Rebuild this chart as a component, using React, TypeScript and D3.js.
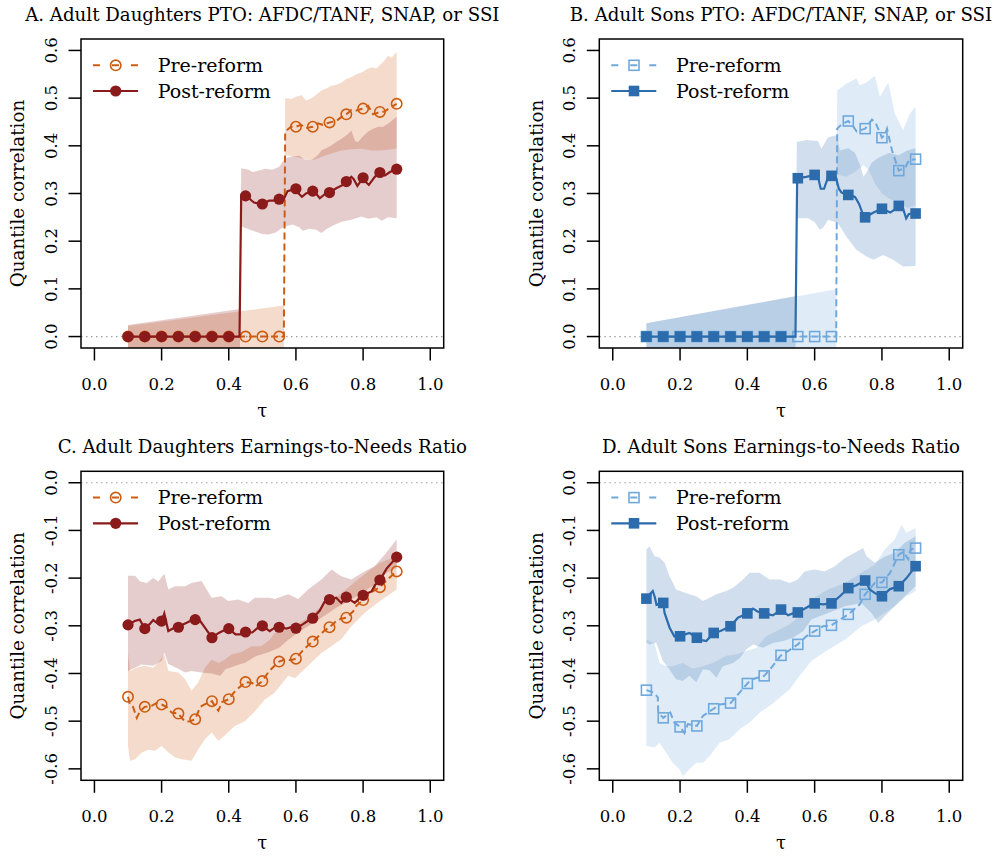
import React from 'react';
import * as d3 from 'd3';

type P = [number, number];

// tau grid of the plotted markers
const markerTau = [0.1, 0.15, 0.2, 0.25, 0.3, 0.35, 0.4, 0.45, 0.5, 0.55, 0.6, 0.65, 0.7, 0.75, 0.8, 0.85, 0.9];
const xTicks = [0, 0.2, 0.4, 0.6, 0.8, 1.0];
const yTicksPos = [0, 0.1, 0.2, 0.3, 0.4, 0.5, 0.6];
const yTicksNeg = [0, -0.1, -0.2, -0.3, -0.4, -0.5, -0.6];
const legendLabels = ['Pre-reform', 'Post-reform'];

// ---------- Panel A: Adult daughters PTO ----------
const aPreMarkers = [0, 0, 0, 0, 0, 0, 0, 0, 0, 0, 0.44, 0.44, 0.449, 0.466, 0.478, 0.471, 0.488];
const aPostMarkers = [0, 0, 0, 0, 0, 0, 0, 0.295, 0.278, 0.288, 0.31, 0.305, 0.302, 0.325, 0.333, 0.344, 0.351];
const aPreLine: P[] = [[0.1, 0], [0.564, 0], [0.568, 0.43], [0.585, 0.44], [0.6, 0.44], [0.615, 0.444], [0.63, 0.437], [0.65, 0.44], [0.665, 0.447], [0.68, 0.444], [0.7, 0.449], [0.72, 0.452], [0.735, 0.46], [0.75, 0.466], [0.765, 0.475], [0.78, 0.474], [0.8, 0.478], [0.815, 0.484], [0.83, 0.466], [0.85, 0.471], [0.865, 0.472], [0.875, 0.478], [0.9, 0.488]];
const aPostLine: P[] = [[0.1, 0], [0.432, 0], [0.437, 0.296], [0.45, 0.295], [0.46, 0.29], [0.475, 0.281], [0.5, 0.278], [0.52, 0.285], [0.54, 0.285], [0.55, 0.288], [0.565, 0.29], [0.575, 0.305], [0.6, 0.31], [0.605, 0.302], [0.618, 0.293], [0.63, 0.3], [0.65, 0.305], [0.66, 0.3], [0.671, 0.29], [0.685, 0.298], [0.7, 0.302], [0.72, 0.311], [0.74, 0.318], [0.75, 0.325], [0.765, 0.335], [0.772, 0.33], [0.783, 0.316], [0.795, 0.328], [0.8, 0.333], [0.807, 0.325], [0.817, 0.318], [0.835, 0.335], [0.85, 0.344], [0.865, 0.338], [0.88, 0.345], [0.9, 0.351]];
const aPreHi: P[] = [[0.1, 0.022], [0.564, 0.065], [0.568, 0.5], [0.587, 0.498], [0.6, 0.503], [0.617, 0.506], [0.63, 0.495], [0.646, 0.499], [0.66, 0.507], [0.676, 0.516], [0.69, 0.52], [0.706, 0.526], [0.72, 0.528], [0.736, 0.533], [0.75, 0.54], [0.765, 0.544], [0.78, 0.55], [0.795, 0.554], [0.81, 0.56], [0.825, 0.565], [0.84, 0.562], [0.854, 0.572], [0.865, 0.58], [0.874, 0.589], [0.885, 0.585], [0.9, 0.597]];
const aPreLo: P[] = [[0.1, -0.05], [0.564, -0.05], [0.568, 0.381], [0.59, 0.378], [0.617, 0.374], [0.646, 0.37], [0.66, 0.372], [0.676, 0.377], [0.706, 0.384], [0.736, 0.39], [0.765, 0.393], [0.795, 0.394], [0.825, 0.39], [0.854, 0.39], [0.874, 0.392], [0.9, 0.394]];
const aPostHi: P[] = [[0.1, 0.024], [0.433, 0.058], [0.437, 0.353], [0.46, 0.35], [0.47, 0.345], [0.49, 0.348], [0.51, 0.352], [0.53, 0.35], [0.55, 0.356], [0.568, 0.374], [0.59, 0.378], [0.61, 0.379], [0.625, 0.372], [0.646, 0.37], [0.665, 0.38], [0.676, 0.39], [0.69, 0.395], [0.706, 0.401], [0.72, 0.408], [0.736, 0.415], [0.755, 0.425], [0.765, 0.432], [0.776, 0.41], [0.785, 0.408], [0.8, 0.42], [0.815, 0.43], [0.83, 0.436], [0.845, 0.44], [0.86, 0.44], [0.875, 0.447], [0.89, 0.455], [0.9, 0.461]];
const aPostLo: P[] = [[0.1, -0.05], [0.433, -0.05], [0.437, 0.231], [0.46, 0.225], [0.48, 0.22], [0.5, 0.215], [0.52, 0.214], [0.54, 0.218], [0.555, 0.226], [0.568, 0.231], [0.59, 0.235], [0.61, 0.229], [0.62, 0.222], [0.64, 0.226], [0.66, 0.224], [0.676, 0.217], [0.69, 0.225], [0.71, 0.233], [0.736, 0.241], [0.765, 0.245], [0.795, 0.252], [0.815, 0.247], [0.84, 0.25], [0.855, 0.243], [0.874, 0.25], [0.9, 0.248]];

// ---------- Panel B: Adult sons PTO ----------
const bPreMarkers = [0, 0, 0, 0, 0, 0, 0, 0, 0, 0, 0, 0, 0.452, 0.436, 0.417, 0.348, 0.372];
const bPostMarkers = [0, 0, 0, 0, 0, 0, 0, 0, 0, 0.332, 0.339, 0.337, 0.297, 0.25, 0.268, 0.274, 0.258];
const bPreLine: P[] = [[0.1, 0], [0.664, 0], [0.667, 0.436], [0.68, 0.445], [0.7, 0.452], [0.715, 0.44], [0.725, 0.43], [0.75, 0.436], [0.76, 0.445], [0.77, 0.455], [0.78, 0.45], [0.8, 0.417], [0.81, 0.425], [0.815, 0.436], [0.83, 0.39], [0.85, 0.348], [0.87, 0.355], [0.88, 0.37], [0.9, 0.372]];
const bPostLine: P[] = [[0.1, 0], [0.543, 0], [0.548, 0.332], [0.55, 0.332], [0.575, 0.335], [0.6, 0.339], [0.61, 0.335], [0.618, 0.31], [0.628, 0.31], [0.64, 0.335], [0.65, 0.337], [0.662, 0.337], [0.672, 0.31], [0.68, 0.302], [0.7, 0.297], [0.72, 0.293], [0.732, 0.278], [0.745, 0.253], [0.75, 0.25], [0.775, 0.26], [0.8, 0.268], [0.825, 0.26], [0.835, 0.265], [0.85, 0.274], [0.862, 0.27], [0.872, 0.248], [0.88, 0.257], [0.9, 0.258]];
const bPreHi: P[] = [[0.1, 0.028], [0.664, 0.099], [0.667, 0.516], [0.694, 0.53], [0.724, 0.541], [0.734, 0.527], [0.754, 0.533], [0.779, 0.547], [0.794, 0.503], [0.819, 0.533], [0.838, 0.468], [0.863, 0.433], [0.883, 0.468], [0.9, 0.482]];
const bPreLo: P[] = [[0.1, -0.05], [0.664, -0.05], [0.667, 0.34], [0.694, 0.335], [0.72, 0.345], [0.745, 0.36], [0.76, 0.35], [0.78, 0.32], [0.8, 0.3], [0.82, 0.29], [0.85, 0.28], [0.875, 0.27], [0.9, 0.275]];
const bPostHi: P[] = [[0.1, 0.028], [0.543, 0.085], [0.547, 0.408], [0.575, 0.412], [0.61, 0.41], [0.62, 0.394], [0.64, 0.418], [0.665, 0.422], [0.675, 0.39], [0.7, 0.395], [0.72, 0.385], [0.735, 0.36], [0.745, 0.335], [0.755, 0.345], [0.77, 0.365], [0.79, 0.375], [0.82, 0.385], [0.85, 0.38], [0.875, 0.39], [0.9, 0.395]];
const bPostLo: P[] = [[0.1, -0.05], [0.543, -0.05], [0.547, 0.248], [0.58, 0.248], [0.6, 0.24], [0.615, 0.224], [0.625, 0.228], [0.64, 0.245], [0.669, 0.238], [0.694, 0.21], [0.724, 0.182], [0.754, 0.168], [0.774, 0.161], [0.804, 0.171], [0.833, 0.161], [0.863, 0.147], [0.9, 0.148]];

// ---------- Panel C: Adult daughters earnings-to-needs ----------
const cPreMarkers = [-0.449, -0.47, -0.465, -0.484, -0.496, -0.458, -0.454, -0.418, -0.416, -0.375, -0.369, -0.333, -0.303, -0.283, -0.246, -0.219, -0.186];
const cPostMarkers = [-0.298, -0.306, -0.29, -0.303, -0.287, -0.325, -0.306, -0.313, -0.3, -0.303, -0.305, -0.284, -0.245, -0.24, -0.236, -0.204, -0.156];
const cPreLine: P[] = [[0.1, -0.449], [0.106, -0.466], [0.115, -0.47], [0.126, -0.493], [0.135, -0.48], [0.15, -0.47], [0.17, -0.468], [0.185, -0.462], [0.2, -0.465], [0.215, -0.47], [0.23, -0.482], [0.25, -0.484], [0.262, -0.495], [0.27, -0.501], [0.285, -0.5], [0.3, -0.496], [0.315, -0.47], [0.325, -0.466], [0.35, -0.458], [0.36, -0.47], [0.369, -0.478], [0.38, -0.46], [0.4, -0.454], [0.415, -0.44], [0.43, -0.43], [0.45, -0.418], [0.47, -0.42], [0.48, -0.427], [0.5, -0.416], [0.52, -0.395], [0.535, -0.385], [0.55, -0.375], [0.57, -0.37], [0.585, -0.372], [0.6, -0.369], [0.62, -0.352], [0.635, -0.342], [0.65, -0.333], [0.67, -0.32], [0.685, -0.31], [0.7, -0.303], [0.72, -0.29], [0.735, -0.285], [0.75, -0.283], [0.77, -0.27], [0.78, -0.258], [0.8, -0.246], [0.815, -0.234], [0.835, -0.225], [0.85, -0.219], [0.87, -0.205], [0.885, -0.195], [0.9, -0.186]];
const cPostLine: P[] = [[0.1, -0.298], [0.12, -0.29], [0.135, -0.287], [0.15, -0.306], [0.165, -0.296], [0.175, -0.288], [0.19, -0.296], [0.2, -0.29], [0.208, -0.274], [0.22, -0.311], [0.235, -0.305], [0.25, -0.302], [0.27, -0.295], [0.285, -0.29], [0.3, -0.287], [0.315, -0.29], [0.33, -0.305], [0.35, -0.325], [0.37, -0.315], [0.385, -0.31], [0.4, -0.306], [0.42, -0.318], [0.435, -0.318], [0.45, -0.313], [0.47, -0.314], [0.485, -0.305], [0.5, -0.3], [0.522, -0.311], [0.535, -0.305], [0.55, -0.303], [0.572, -0.306], [0.59, -0.302], [0.6, -0.305], [0.62, -0.297], [0.635, -0.29], [0.65, -0.284], [0.671, -0.268], [0.685, -0.25], [0.7, -0.245], [0.72, -0.241], [0.735, -0.252], [0.75, -0.24], [0.775, -0.252], [0.79, -0.242], [0.8, -0.236], [0.825, -0.228], [0.835, -0.215], [0.85, -0.204], [0.87, -0.18], [0.9, -0.156]];
const cPreHi: P[] = [[0.1, -0.356], [0.106, -0.395], [0.125, -0.388], [0.15, -0.384], [0.175, -0.388], [0.19, -0.377], [0.208, -0.36], [0.22, -0.395], [0.25, -0.398], [0.27, -0.412], [0.289, -0.436], [0.309, -0.419], [0.329, -0.388], [0.349, -0.371], [0.37, -0.378], [0.388, -0.371], [0.408, -0.36], [0.438, -0.355], [0.468, -0.343], [0.497, -0.343], [0.522, -0.329], [0.537, -0.315], [0.577, -0.308], [0.636, -0.283], [0.676, -0.259], [0.725, -0.238], [0.765, -0.214], [0.81, -0.189], [0.85, -0.168], [0.9, -0.154]];
const cPreLo: P[] = [[0.1, -0.552], [0.106, -0.583], [0.121, -0.58], [0.14, -0.566], [0.16, -0.56], [0.18, -0.562], [0.2, -0.552], [0.22, -0.565], [0.24, -0.576], [0.26, -0.58], [0.289, -0.583], [0.309, -0.559], [0.329, -0.538], [0.349, -0.524], [0.369, -0.541], [0.388, -0.53], [0.418, -0.51], [0.448, -0.5], [0.478, -0.479], [0.507, -0.455], [0.537, -0.44], [0.577, -0.405], [0.597, -0.41], [0.636, -0.384], [0.676, -0.357], [0.735, -0.328], [0.765, -0.301], [0.804, -0.273], [0.85, -0.248], [0.9, -0.224]];
const cPostHi: P[] = [[0.1, -0.195], [0.121, -0.195], [0.136, -0.207], [0.156, -0.21], [0.175, -0.2], [0.19, -0.207], [0.208, -0.191], [0.22, -0.224], [0.24, -0.217], [0.27, -0.217], [0.289, -0.21], [0.319, -0.206], [0.349, -0.241], [0.379, -0.238], [0.398, -0.248], [0.428, -0.245], [0.458, -0.252], [0.478, -0.241], [0.522, -0.241], [0.537, -0.244], [0.577, -0.234], [0.607, -0.244], [0.636, -0.224], [0.676, -0.203], [0.706, -0.182], [0.735, -0.196], [0.765, -0.203], [0.804, -0.186], [0.834, -0.175], [0.864, -0.151], [0.9, -0.119]];
const cPostLo: P[] = [[0.1, -0.395], [0.121, -0.388], [0.14, -0.381], [0.175, -0.384], [0.2, -0.374], [0.208, -0.356], [0.22, -0.38], [0.25, -0.39], [0.27, -0.398], [0.289, -0.395], [0.319, -0.398], [0.349, -0.4], [0.375, -0.405], [0.39, -0.391], [0.42, -0.384], [0.45, -0.377], [0.48, -0.364], [0.52, -0.355], [0.55, -0.346], [0.577, -0.329], [0.62, -0.308], [0.676, -0.283], [0.72, -0.262], [0.765, -0.245], [0.804, -0.228], [0.84, -0.21], [0.87, -0.189], [0.9, -0.179]];

// ---------- Panel D: Adult sons earnings-to-needs ----------
const dPreMarkers = [-0.435, -0.493, -0.512, -0.51, -0.474, -0.462, -0.421, -0.405, -0.362, -0.339, -0.311, -0.299, -0.276, -0.234, -0.209, -0.151, -0.137];
const dPostMarkers = [-0.243, -0.252, -0.322, -0.325, -0.315, -0.301, -0.274, -0.274, -0.266, -0.272, -0.253, -0.253, -0.221, -0.205, -0.238, -0.217, -0.175];
const dPreLine: P[] = [[0.1, -0.435], [0.121, -0.44], [0.134, -0.45], [0.135, -0.482], [0.15, -0.493], [0.171, -0.482], [0.183, -0.503], [0.2, -0.512], [0.213, -0.525], [0.223, -0.506], [0.25, -0.51], [0.268, -0.489], [0.3, -0.474], [0.318, -0.465], [0.35, -0.462], [0.377, -0.44], [0.4, -0.421], [0.415, -0.412], [0.45, -0.405], [0.471, -0.388], [0.5, -0.362], [0.521, -0.353], [0.55, -0.339], [0.575, -0.322], [0.6, -0.311], [0.625, -0.301], [0.65, -0.299], [0.675, -0.287], [0.7, -0.276], [0.734, -0.255], [0.75, -0.234], [0.779, -0.21], [0.8, -0.209], [0.824, -0.189], [0.85, -0.151], [0.863, -0.145], [0.878, -0.16], [0.885, -0.14], [0.9, -0.137]];
const dPostLine: P[] = [[0.1, -0.243], [0.112, -0.232], [0.119, -0.227], [0.125, -0.24], [0.13, -0.256], [0.15, -0.252], [0.154, -0.273], [0.169, -0.304], [0.183, -0.322], [0.2, -0.322], [0.215, -0.318], [0.228, -0.315], [0.25, -0.325], [0.265, -0.33], [0.278, -0.332], [0.3, -0.315], [0.32, -0.311], [0.35, -0.301], [0.372, -0.283], [0.4, -0.274], [0.417, -0.264], [0.43, -0.27], [0.45, -0.274], [0.476, -0.278], [0.5, -0.266], [0.521, -0.278], [0.535, -0.274], [0.55, -0.272], [0.575, -0.262], [0.6, -0.253], [0.625, -0.255], [0.65, -0.253], [0.675, -0.238], [0.7, -0.221], [0.724, -0.215], [0.75, -0.205], [0.764, -0.224], [0.78, -0.232], [0.8, -0.238], [0.824, -0.223], [0.85, -0.217], [0.873, -0.2], [0.9, -0.175]];
const dPreHi: P[] = [[0.1, -0.329], [0.124, -0.336], [0.139, -0.378], [0.159, -0.385], [0.178, -0.385], [0.208, -0.378], [0.238, -0.39], [0.268, -0.385], [0.298, -0.378], [0.337, -0.363], [0.367, -0.36], [0.397, -0.353], [0.427, -0.346], [0.456, -0.322], [0.496, -0.308], [0.526, -0.297], [0.555, -0.28], [0.59, -0.245], [0.64, -0.224], [0.69, -0.21], [0.739, -0.189], [0.779, -0.172], [0.808, -0.14], [0.838, -0.119], [0.858, -0.088], [0.873, -0.105], [0.9, -0.095]];
const dPreLo: P[] = [[0.1, -0.552], [0.124, -0.555], [0.139, -0.545], [0.159, -0.566], [0.178, -0.587], [0.198, -0.601], [0.208, -0.615], [0.228, -0.601], [0.248, -0.587], [0.268, -0.587], [0.288, -0.573], [0.318, -0.545], [0.347, -0.538], [0.377, -0.517], [0.407, -0.503], [0.437, -0.482], [0.466, -0.468], [0.496, -0.451], [0.526, -0.433], [0.55, -0.41], [0.59, -0.374], [0.64, -0.35], [0.69, -0.329], [0.739, -0.301], [0.779, -0.287], [0.838, -0.259], [0.868, -0.24], [0.9, -0.227]];
const dPostHi: P[] = [[0.1, -0.14], [0.109, -0.133], [0.124, -0.154], [0.139, -0.157], [0.154, -0.168], [0.169, -0.196], [0.188, -0.224], [0.208, -0.229], [0.228, -0.234], [0.248, -0.238], [0.268, -0.248], [0.288, -0.241], [0.308, -0.234], [0.337, -0.227], [0.357, -0.22], [0.387, -0.203], [0.407, -0.189], [0.436, -0.189], [0.466, -0.203], [0.496, -0.203], [0.526, -0.21], [0.55, -0.203], [0.57, -0.186], [0.6, -0.182], [0.63, -0.186], [0.66, -0.175], [0.69, -0.158], [0.719, -0.147], [0.744, -0.137], [0.754, -0.154], [0.779, -0.168], [0.808, -0.155], [0.838, -0.147], [0.868, -0.126], [0.9, -0.112]];
const dPostLo: P[] = [[0.1, -0.335], [0.109, -0.339], [0.129, -0.335], [0.149, -0.374], [0.169, -0.392], [0.188, -0.412], [0.208, -0.416], [0.228, -0.405], [0.248, -0.419], [0.268, -0.391], [0.288, -0.393], [0.308, -0.409], [0.327, -0.385], [0.357, -0.378], [0.377, -0.368], [0.397, -0.349], [0.417, -0.339], [0.446, -0.346], [0.476, -0.336], [0.506, -0.332], [0.536, -0.325], [0.566, -0.311], [0.59, -0.287], [0.64, -0.273], [0.69, -0.259], [0.739, -0.252], [0.769, -0.273], [0.789, -0.294], [0.808, -0.28], [0.838, -0.259], [0.868, -0.238], [0.9, -0.217]];

const FONT = '"DejaVu Serif", serif';

type Cfg = {
  id: string;
  left: number; top: number; width: number; height: number;
  yDomain: [number, number]; yTicks: number[];
  title: string;
  shape: 'circle' | 'square';
  preColor: string; postColor: string;
  preBand: string; postBand: string;
  preLine: P[]; postLine: P[];
  preMarkers: number[]; postMarkers: number[];
  preHi: P[]; preLo: P[]; postHi: P[]; postLo: P[];
};

const fmt = (t: number) => (Math.abs(t) < 1e-9 ? '0.0' : t.toFixed(1));

const Marker = ({ cx, cy, shape, color, filled }: { cx: number; cy: number; shape: string; color: string; filled: boolean }) => {
  if (shape === 'circle') {
    return filled
      ? <circle cx={cx} cy={cy} r={5.6} fill={color} />
      : <circle cx={cx} cy={cy} r={5.2} fill="none" stroke={color} strokeWidth={1.6} />;
  }
  return filled
    ? <rect x={cx - 5.3} y={cy - 5.3} width={10.6} height={10.6} fill={color} />
    : <rect x={cx - 5} y={cy - 5} width={10} height={10} fill="none" stroke={color} strokeWidth={1.6} />;
};

function Panel({ c }: { c: Cfg }) {
  const x = d3.scaleLinear().domain([-0.04, 1.04]).range([c.left, c.left + c.width]);
  const y = d3.scaleLinear().domain(c.yDomain).range([c.top + c.height, c.top]);
  const line = d3.line<P>().x(d => x(d[0])).y(d => y(d[1]));
  const poly = (hi: P[], lo: P[]) => line([...hi, ...lo.slice().reverse()]) + 'Z';
  const bottom = c.top + c.height;
  const cxm = c.left + c.width / 2;
  const legRows = [c.top + 26.3, c.top + 52];
  const lx0 = c.left + 12, lx1 = c.left + 57, lxm = c.left + 34.7;
  return (
    <g>
      <defs>
        <clipPath id={`clip-${c.id}`}>
          <rect x={c.left} y={c.top} width={c.width} height={c.height} />
        </clipPath>
      </defs>
      <text x={cxm} y={c.top - 18} textAnchor="middle" fontSize={18.2} fontFamily={FONT}>{c.title}</text>
      <g clipPath={`url(#clip-${c.id})`}>
        <line x1={c.left} x2={c.left + c.width} y1={y(0)} y2={y(0)} stroke="#a0a0a0" strokeWidth={1.2} strokeDasharray="1.5,3.5" />
        <path d={poly(c.preHi, c.preLo)} fill={c.preBand} fillOpacity={0.22} stroke="none" />
        <path d={poly(c.postHi, c.postLo)} fill={c.postBand} fillOpacity={0.22} stroke="none" />
        <path d={line(c.preLine) || ''} fill="none" stroke={c.preColor} strokeWidth={2} strokeDasharray="7,4" />
        {markerTau.map((t, i) => (
          <Marker key={`pre${i}`} cx={x(t)} cy={y(c.preMarkers[i])} shape={c.shape} color={c.preColor} filled={false} />
        ))}
        <path d={line(c.postLine) || ''} fill="none" stroke={c.postColor} strokeWidth={2.2} />
        {markerTau.map((t, i) => (
          <Marker key={`post${i}`} cx={x(t)} cy={y(c.postMarkers[i])} shape={c.shape} color={c.postColor} filled={true} />
        ))}
      </g>
      <rect x={c.left} y={c.top} width={c.width} height={c.height} fill="none" stroke="#000" strokeWidth={1.5} />
      {xTicks.map(t => (
        <g key={`xt${t}`}>
          <line x1={x(t)} x2={x(t)} y1={bottom} y2={bottom + 12.5} stroke="#000" strokeWidth={1.5} />
          <text x={x(t)} y={bottom + 42} textAnchor="middle" fontSize={16.5} fontFamily={FONT}>{fmt(t)}</text>
        </g>
      ))}
      {c.yTicks.map(t => (
        <g key={`yt${t}`}>
          <line x1={c.left - 12.5} x2={c.left} y1={y(t)} y2={y(t)} stroke="#000" strokeWidth={1.5} />
          <text transform={`translate(${c.left - 24.3},${y(t)}) rotate(-90)`} textAnchor="middle" fontSize={16.5} fontFamily={FONT}>{fmt(t)}</text>
        </g>
      ))}
      <text x={cxm} y={bottom + 69} textAnchor="middle" fontSize={18} fontFamily={FONT}>τ</text>
      <text transform={`translate(${c.left - 56.7},${c.top + c.height / 2}) rotate(-90)`} textAnchor="middle" fontSize={18.3} fontFamily={FONT}>Quantile correlation</text>
      {/* legend */}
      <line x1={lx0} x2={lx1} y1={legRows[0]} y2={legRows[0]} stroke={c.preColor} strokeWidth={2} strokeDasharray="7,12,7,12,7" />
      <Marker cx={lxm} cy={legRows[0]} shape={c.shape} color={c.preColor} filled={false} />
      <line x1={lx0} x2={lx1} y1={legRows[1]} y2={legRows[1]} stroke={c.postColor} strokeWidth={2.2} />
      <Marker cx={lxm} cy={legRows[1]} shape={c.shape} color={c.postColor} filled={true} />
      {legendLabels.map((lab, i) => (
        <text key={lab} x={c.left + 76.7} y={legRows[i]} dy="0.36em" fontSize={19} fontFamily={FONT}>{lab}</text>
      ))}
    </g>
  );
}

const RED_PRE = '#CD5C12';
const RED_POST = '#8B1A1A';
const BLUE_PRE = '#6FA8DC';
const BLUE_POST = '#2C6BAC';

const panels: Cfg[] = [
  { id: 'A', left: 81, top: 39, width: 362.7, height: 309, yDomain: [-0.024, 0.624], yTicks: yTicksPos,
    title: 'A. Adult Daughters PTO: AFDC/TANF, SNAP, or SSI', shape: 'circle',
    preColor: RED_PRE, postColor: RED_POST, preBand: RED_PRE, postBand: RED_POST,
    preLine: aPreLine, postLine: aPostLine, preMarkers: aPreMarkers, postMarkers: aPostMarkers,
    preHi: aPreHi, preLo: aPreLo, postHi: aPostHi, postLo: aPostLo },
  { id: 'B', left: 599.3, top: 39, width: 363.4, height: 309, yDomain: [-0.024, 0.624], yTicks: yTicksPos,
    title: 'B. Adult Sons PTO: AFDC/TANF, SNAP, or SSI', shape: 'square',
    preColor: BLUE_PRE, postColor: BLUE_POST, preBand: BLUE_PRE, postBand: BLUE_POST,
    preLine: bPreLine, postLine: bPostLine, preMarkers: bPreMarkers, postMarkers: bPostMarkers,
    preHi: bPreHi, preLo: bPreLo, postHi: bPostHi, postLo: bPostLo },
  { id: 'C', left: 81, top: 471.3, width: 362.7, height: 309, yDomain: [-0.624, 0.024], yTicks: yTicksNeg,
    title: 'C. Adult Daughters Earnings-to-Needs Ratio', shape: 'circle',
    preColor: RED_PRE, postColor: RED_POST, preBand: RED_PRE, postBand: RED_POST,
    preLine: cPreLine, postLine: cPostLine, preMarkers: cPreMarkers, postMarkers: cPostMarkers,
    preHi: cPreHi, preLo: cPreLo, postHi: cPostHi, postLo: cPostLo },
  { id: 'D', left: 599.3, top: 471.3, width: 363.4, height: 309, yDomain: [-0.624, 0.024], yTicks: yTicksNeg,
    title: 'D. Adult Sons Earnings-to-Needs Ratio', shape: 'square',
    preColor: BLUE_PRE, postColor: BLUE_POST, preBand: BLUE_PRE, postBand: BLUE_POST,
    preLine: dPreLine, postLine: dPostLine, preMarkers: dPreMarkers, postMarkers: dPostMarkers,
    preHi: dPreHi, preLo: dPreLo, postHi: dPostHi, postLo: dPostLo },
];

export default function App() {
  return (
    <svg width={993} height={856} style={{ position: 'absolute', left: 0, top: 0, background: '#fff' }}>
      <rect x={0} y={0} width={993} height={856} fill="#fff" />
      {panels.map(p => <Panel key={p.id} c={p} />)}
    </svg>
  );
}
